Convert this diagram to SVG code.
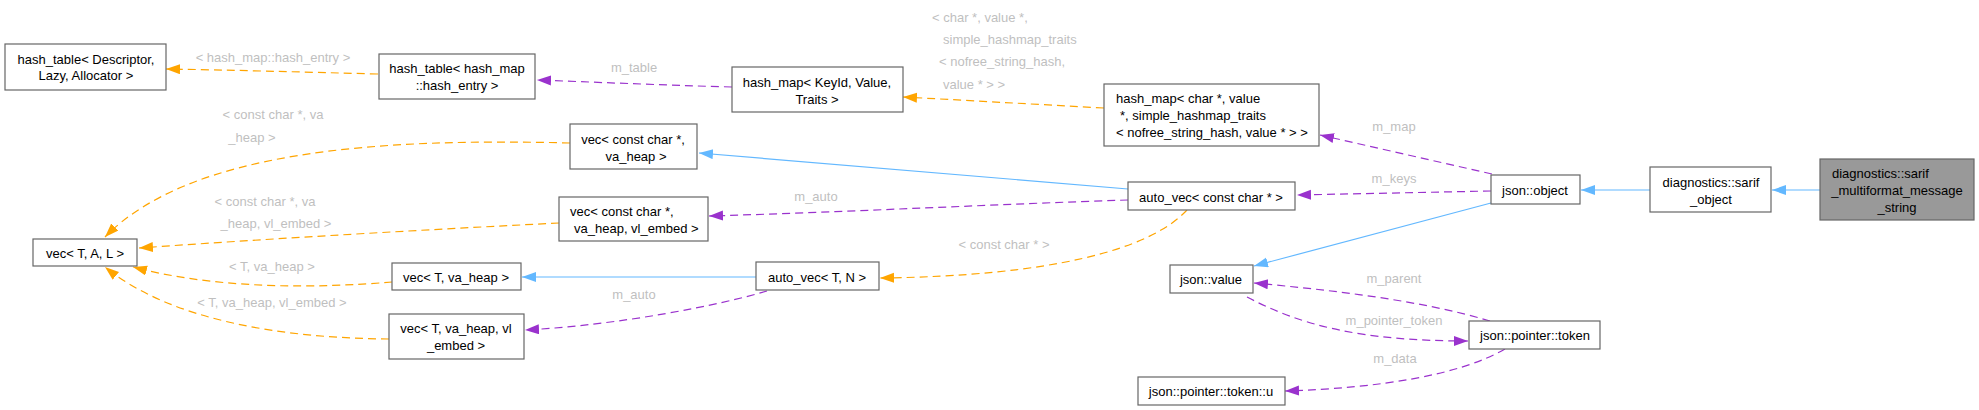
<svg xmlns="http://www.w3.org/2000/svg" width="1979" height="410" viewBox="0 0 1979 410">
<style>
text{font-family:"Liberation Sans",Arial,sans-serif;font-size:13px;fill:#000}
.n rect{fill:#fff;stroke:#666;stroke-width:1.2}
.n.main rect{fill:#999}
.c{text-anchor:middle}
.lbl{fill:#bfbfbf;font-size:13px}
.e{fill:none;stroke-width:1.2}
.inh{stroke:#63b8ff}
.tpl{stroke:#ffa500;stroke-dasharray:8,5}
.use{stroke:#9a32cd;stroke-dasharray:8,5}
</style>
<defs>
<marker id="aB" markerUnits="userSpaceOnUse" markerWidth="15" markerHeight="12" refX="14" refY="5" orient="auto"><path d="M0,0 L14,5 L0,10 z" fill="#63b8ff"/></marker>
<marker id="aO" markerUnits="userSpaceOnUse" markerWidth="15" markerHeight="12" refX="14" refY="5" orient="auto"><path d="M0,0 L14,5 L0,10 z" fill="#ffa500"/></marker>
<marker id="aP" markerUnits="userSpaceOnUse" markerWidth="15" markerHeight="12" refX="14" refY="5" orient="auto"><path d="M0,0 L14,5 L0,10 z" fill="#9a32cd"/></marker>
</defs>
<rect width="1979" height="410" fill="#fff"/>
<g id="connectors">
<path class="e tpl" marker-end="url(#aO)" d="M378,74 C300,72 230,70 166,69"/>
<text class="lbl c" x="273" y="62">&lt; hash_map::hash_entry &gt;</text>
<path class="e use" marker-end="url(#aP)" d="M732,87 C660,85 590,82 537,80"/>
<text class="lbl c" x="634" y="72">m_table</text>
<path class="e tpl" marker-end="url(#aO)" d="M1104,108 C1030,104 960,100 903,97"/>
<text class="lbl" x="932" y="22">&lt; char *, value *,</text>
<text class="lbl" x="943" y="44">simple_hashmap_traits</text>
<text class="lbl" x="939" y="66">&lt; nofree_string_hash,</text>
<text class="lbl" x="943" y="89">value * &gt; &gt;</text>
<path class="e inh" marker-end="url(#aB)" d="M1128,189 L699,153"/>
<path class="e use" marker-end="url(#aP)" d="M1128,200 C1000,204 850,212 709,216"/>
<text class="lbl c" x="816" y="201">m_auto</text>
<path class="e tpl" marker-end="url(#aO)" d="M1187,210 C1150,250 1050,276 880,278"/>
<text class="lbl c" x="1004" y="249">&lt; const char * &gt;</text>
<path class="e use" marker-end="url(#aP)" d="M1492,174 L1320,135"/>
<text class="lbl c" x="1394" y="131">m_map</text>
<path class="e use" marker-end="url(#aP)" d="M1491,191 L1297,195"/>
<text class="lbl c" x="1394" y="183">m_keys</text>
<path class="e inh" marker-end="url(#aB)" d="M1491,203 L1254,266"/>
<path class="e inh" marker-end="url(#aB)" d="M1650,190 L1581,190"/>
<path class="e inh" marker-end="url(#aB)" d="M1820,190 L1772,190"/>
<path class="e use" marker-end="url(#aP)" d="M1490,321 C1420,300 1330,290 1254,283"/>
<text class="lbl c" x="1394" y="283">m_parent</text>
<path class="e use" marker-end="url(#aP)" d="M1247,297 C1300,325 1360,341 1468,341"/>
<text class="lbl c" x="1394" y="325">m_pointer_token</text>
<path class="e use" marker-end="url(#aP)" d="M1505,349 C1460,375 1380,388 1285,391"/>
<text class="lbl c" x="1395" y="363">m_data</text>
<path class="e tpl" marker-end="url(#aO)" d="M570,143 C380,138 190,150 105,237"/>
<text class="lbl c" x="273" y="119">&lt; const char *, va</text>
<text class="lbl c" x="252" y="142">_heap &gt;</text>
<path class="e tpl" marker-end="url(#aO)" d="M559,223 C420,230 280,238 139,248"/>
<text class="lbl c" x="265" y="206">&lt; const char *, va</text>
<text class="lbl c" x="276" y="228">_heap, vl_embed &gt;</text>
<path class="e tpl" marker-end="url(#aO)" d="M392,282 C320,288 220,290 133,267"/>
<text class="lbl c" x="272" y="271">&lt; T, va_heap &gt;</text>
<path class="e tpl" marker-end="url(#aO)" d="M389,339 C280,338 170,320 105,267"/>
<text class="lbl c" x="272" y="307">&lt; T, va_heap, vl_embed &gt;</text>
<path class="e inh" marker-end="url(#aB)" d="M756,277 L522,277"/>
<path class="e use" marker-end="url(#aP)" d="M767,291 C720,305 620,325 525,330"/>
<text class="lbl c" x="634" y="299">m_auto</text>
</g>
<g id="hash_table_descriptor" class="n"><rect x="5" y="44" width="161" height="46"/><text class="c" x="86" y="63.5">hash_table&lt; Descriptor,</text><text class="c" x="86" y="80">Lazy, Allocator &gt;</text></g>
<g id="hash_table_hash_entry" class="n"><rect x="379" y="54" width="156" height="45"/><text class="c" x="457" y="72.5">hash_table&lt; hash_map</text><text class="c" x="457" y="89.5">::hash_entry &gt;</text></g>
<g id="hash_map_keyid" class="n"><rect x="732" y="67" width="171" height="45"/><text class="c" x="817" y="86.5">hash_map&lt; KeyId, Value,</text><text class="c" x="817" y="103.5">Traits &gt;</text></g>
<g id="hash_map_char" class="n"><rect x="1104" y="84" width="215" height="62"/><text x="1116" y="102.5">hash_map&lt; char *, value</text><text x="1120" y="119.5">*, simple_hashmap_traits</text><text x="1116" y="136.5">&lt; nofree_string_hash, value * &gt; &gt;</text></g>
<g id="vec_cc_va_heap" class="n"><rect x="570" y="124" width="127" height="45"/><text class="c" x="633" y="143.5">vec&lt; const char *,</text><text class="c" x="636" y="160.5">va_heap &gt;</text></g>
<g id="vec_cc_va_heap_vl_embed" class="n"><rect x="559" y="197" width="149" height="44"/><text x="570" y="215.5">vec&lt; const char *,</text><text x="574" y="232.5">va_heap, vl_embed &gt;</text></g>
<g id="vec_t_a_l" class="n"><rect x="33" y="239" width="104" height="27"/><text class="c" x="85" y="257.5">vec&lt; T, A, L &gt;</text></g>
<g id="vec_t_va_heap" class="n"><rect x="392" y="263" width="129" height="27"/><text class="c" x="456" y="281.5">vec&lt; T, va_heap &gt;</text></g>
<g id="vec_t_va_heap_vl_embed" class="n"><rect x="389" y="314" width="135" height="45"/><text class="c" x="456" y="332.5">vec&lt; T, va_heap, vl</text><text class="c" x="456" y="349.5">_embed &gt;</text></g>
<g id="auto_vec_t_n" class="n"><rect x="756" y="262" width="123" height="28"/><text class="c" x="817" y="281.5">auto_vec&lt; T, N &gt;</text></g>
<g id="auto_vec_cc" class="n"><rect x="1128" y="182" width="167" height="28"/><text class="c" x="1211" y="201.5">auto_vec&lt; const char * &gt;</text></g>
<g id="json_object" class="n"><rect x="1491" y="175" width="89" height="29"/><text class="c" x="1535" y="194.5">json::object</text></g>
<g id="json_value" class="n"><rect x="1170" y="265" width="83" height="28"/><text class="c" x="1211" y="283.5">json::value</text></g>
<g id="json_pointer_token" class="n"><rect x="1469" y="321" width="131" height="28"/><text class="c" x="1535" y="339.5">json::pointer::token</text></g>
<g id="json_pointer_token_u" class="n"><rect x="1138" y="377" width="147" height="28"/><text class="c" x="1211" y="395.5">json::pointer::token::u</text></g>
<g id="sarif_object" class="n"><rect x="1650" y="167" width="121" height="45"/><text class="c" x="1711" y="186.5">diagnostics::sarif</text><text class="c" x="1711" y="203.5">_object</text></g>
<g id="sarif_multiformat_message_string" class="n main"><rect x="1820" y="159" width="154" height="61"/><text x="1832" y="177.5">diagnostics::sarif</text><text class="c" x="1897" y="194.5">_multiformat_message</text><text class="c" x="1897" y="211.5">_string</text></g>
</svg>
